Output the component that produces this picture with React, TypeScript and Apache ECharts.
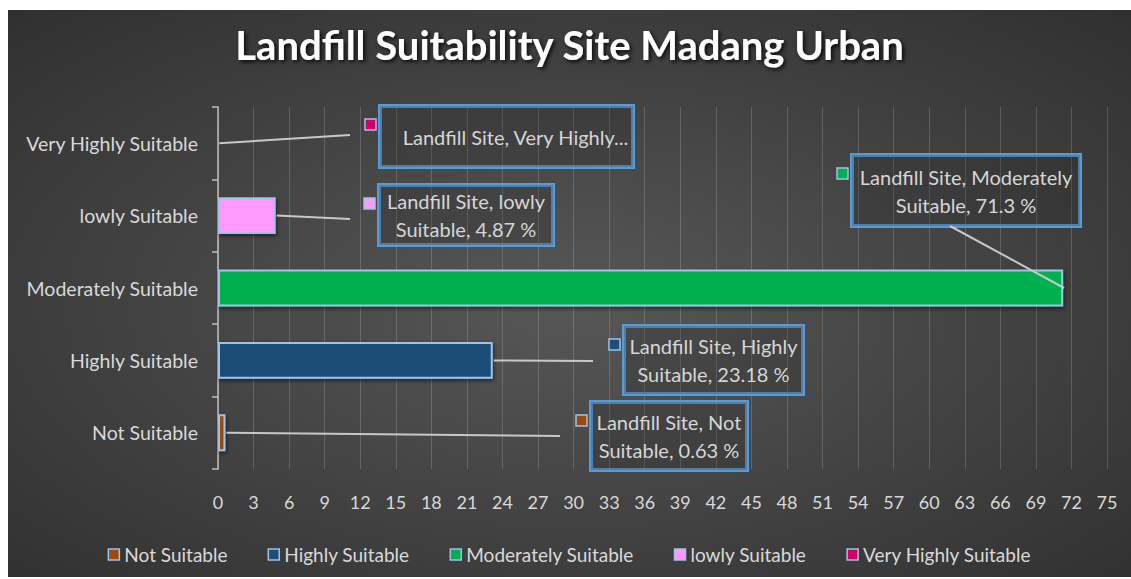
import React, { useEffect, useRef } from 'react';
import * as echarts from 'echarts';

const categories = ['Not Suitable', 'Highly Suitable', 'Moderately Suitable', 'lowly Suitable', 'Very Highly Suitable'];
const values = [0.63, 23.18, 71.3, 4.87, 0.02];
const labelLines = [
  ['Landfill Site, Not', 'Suitable, 0.63 %'],
  ['Landfill Site, Highly', 'Suitable, 23.18 %'],
  ['Landfill Site, Moderately', 'Suitable, 71.3 %'],
  ['Landfill Site, lowly', 'Suitable, 4.87 %'],
  ['Landfill Site, Very Highly...'],
];
const colors = ['#9E480E', '#1F4E79', '#00B050', '#FF99FF', '#CC0066'];
const titleText = 'Landfill Suitability Site Madang Urban';
const xMin = 0;
const xMax = 75;
const xInterval = 3;

// layout (page coordinates): label boxes [left, top, width, height] and leader-line end points
const OX = 8;
const OY = 10;
const labelBoxes = [
  [591, 402, 156, 68],
  [624, 326, 179, 68],
  [852, 155, 228, 71],
  [379, 185, 174, 60],
  [380, 106, 253, 61],
];
const lineEnds = [
  [560, 436],
  [593, 361],
  [950, 226],
  [350, 219],
  [350, 135],
];

const FONT = 'Lato, "Open Sans", sans-serif';
const BORDER = '#9DC3E6';
const LABEL_LH = 28;

export default function App() {
  const ref = useRef<HTMLDivElement>(null);
  useEffect(() => {
    document.body.style.margin = '0';
    if (!ref.current) return;
    const chart = echarts.init(ref.current, null, { renderer: 'svg' });

    const series = categories.map((cat, i) => {
      const [bl, bt, bw, bh] = labelBoxes[i];
      const nLines = labelLines[i].length;
      const padV = (bh - nLines * LABEL_LH) / 2;
      const isVH = i === 4;
      return {
        name: cat,
        type: 'bar',
        barWidth: '51%',
        barGap: '-100%',
        data: categories.map((_, j) => (j === i ? values[i] : null)),
        itemStyle: {
          color: colors[i],
          borderColor: BORDER,
          borderWidth: 2,
          shadowBlur: 4,
          shadowColor: 'rgba(0,0,0,0.55)',
          shadowOffsetX: 1,
          shadowOffsetY: 2,
        },
        label: {
          show: true,
          position: 'right',
          formatter: () => labelLines[i].join('\n'),
          color: '#d6d6d6',
          fontFamily: FONT,
          fontSize: 20,
          lineHeight: LABEL_LH,
          align: 'center',
          width: isVH ? bw - 30 : bw - 8,
          padding: isVH ? [padV, 6, padV, 24] : [padV, 4, padV, 4],
          borderColor: '#5B9BD5',
          borderWidth: 2,
          backgroundColor: 'rgba(40,40,40,0.25)',
        },
        labelLayout: () => ({
          x: bl - OX + bw / 2,
          y: bt - OY + bh / 2,
          align: 'center',
          verticalAlign: 'middle',
        }),
      };
    });

    const squares = labelBoxes.map((b, i) => ({
      id: 'sq' + i,
      type: 'rect',
      shape: { x: b[0] - OX - 15, y: b[1] - OY + 13, width: 11, height: 11 },
      style: { fill: colors[i], stroke: BORDER, lineWidth: 1.5 },
      z: 10,
    }));

    chart.setOption({
      animation: false,
      backgroundColor: {
        type: 'radial',
        x: 0.5,
        y: 0.52,
        r: 1.05,
        colorStops: [
          { offset: 0, color: '#575757' },
          { offset: 1, color: '#1e1e1e' },
        ],
      },
      title: {
        text: titleText,
        left: 'center',
        top: 10,
        textStyle: {
          color: '#ffffff',
          fontFamily: FONT,
          fontWeight: 'bold',
          fontSize: 40,
          textShadowColor: 'rgba(0,0,0,0.85)',
          textShadowBlur: 4,
          textShadowOffsetX: 2,
          textShadowOffsetY: 2,
        },
      },
      legend: {
        bottom: 8,
        left: 'center',
        icon: 'rect',
        itemWidth: 11,
        itemHeight: 11,
        itemGap: 40,
        data: categories,
        textStyle: { color: '#d9d9d9', fontFamily: FONT, fontSize: 19 },
        itemStyle: { borderColor: BORDER, borderWidth: 1.5, shadowBlur: 0, shadowOffsetX: 0, shadowOffsetY: 0 },
      },
      grid: { left: 210, right: 24, top: 97, bottom: 108, containLabel: false },
      xAxis: {
        type: 'value',
        min: xMin,
        max: xMax,
        interval: xInterval,
        axisLine: { show: false },
        axisTick: { show: false },
        axisLabel: { color: '#d9d9d9', fontFamily: FONT, fontSize: 18, margin: 24 },
        splitLine: { show: true, lineStyle: { color: 'rgba(255,255,255,0.17)', width: 1 } },
      },
      yAxis: {
        type: 'category',
        data: categories,
        axisLine: { show: true, lineStyle: { color: '#bfbfbf', width: 1.5 } },
        axisTick: { show: true, length: 6, lineStyle: { color: '#bfbfbf', width: 1.5 } },
        axisLabel: { color: '#d9d9d9', fontFamily: FONT, fontSize: 19.5, margin: 20 },
      },
      graphic: squares,
      series,
    } as any);

    // leader lines from each bar's end (through the axes' scales) to its callout
    const leaders = values.map((v, i) => {
      const p = chart.convertToPixel({ seriesIndex: i }, [v, i]) as number[];
      return {
        id: 'ld' + i,
        type: 'polyline',
        shape: { points: [[p[0] + 1, p[1]], [lineEnds[i][0] - OX, lineEnds[i][1] - OY]] },
        style: { stroke: '#c8c8c8', lineWidth: 2, fill: 'none' },
        z: 9,
      };
    });
    chart.setOption({ graphic: [...squares, ...leaders] } as any);

    return () => chart.dispose();
  }, []);

  return (
    <div style={{ position: 'relative', width: 1131, height: 579, background: '#ffffff' }}>
      <div ref={ref} style={{ position: 'absolute', left: OX, top: OY, width: 1123, height: 567 }} />
    </div>
  );
}
